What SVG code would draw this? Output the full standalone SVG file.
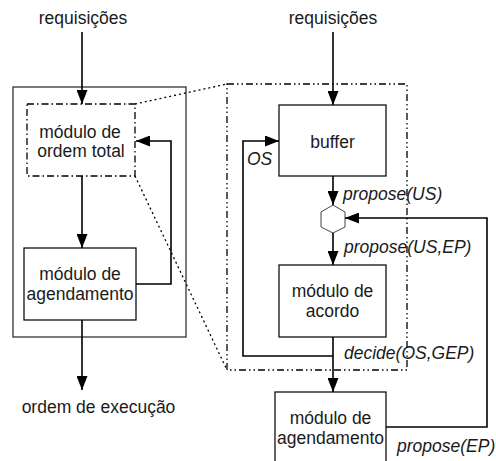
<svg xmlns="http://www.w3.org/2000/svg" width="496" height="461" viewBox="0 0 496 461">
<style>
text{font-family:"Liberation Sans",Arial,sans-serif;font-size:17.5px;fill:#1a1a1a}
.c{text-anchor:middle}
.i{font-style:italic}
.box{fill:#fff;stroke:#111;stroke-width:1.3}
.dd{fill:none;stroke:#000;stroke-width:1.3;stroke-dasharray:7 3 1.5 3}
.ddd{fill:none;stroke:#000;stroke-width:1.3;stroke-dasharray:7 3 1.5 3 1.5 3}
.dot{fill:none;stroke:#000;stroke-width:1.3;stroke-dasharray:2 3}
.ln{fill:none;stroke:#000;stroke-width:1.6}
</style>
<defs>
<marker id="ahl" viewBox="0 0 14 11" refX="14" refY="5.5" markerWidth="14" markerHeight="11" markerUnits="userSpaceOnUse" orient="auto">
<path d="M0,0 L14,5.5 L0,11 z" fill="#000"/>
</marker>
</defs>
<g id="outer-left"><rect class="box" x="13" y="87" width="173" height="250" style="stroke:#333"/></g>
<g id="zoom-lines">
<line class="dot" x1="135" y1="104" x2="227" y2="84"/>
<line class="dot" x1="135" y1="176" x2="227" y2="370"/>
</g>
<g id="outer-right"><rect class="ddd" x="227" y="84" width="180" height="286"/></g>
<g id="ordem-total">
<rect class="dd" x="27" y="104" width="108" height="72"/>
<text class="c" x="80" y="138">módulo de</text>
<text class="c" x="81" y="157">ordem total</text>
</g>
<g id="agendamento-left">
<rect class="box" x="24" y="248" width="112" height="72"/>
<text class="c" x="80" y="280">módulo de</text>
<text class="c" x="80" y="300">agendamento</text>
</g>
<g id="buffer">
<rect class="box" x="279" y="105" width="107" height="71"/>
<text class="c" x="332.5" y="148">buffer</text>
</g>
<g id="hexagon"><polygon points="333,205 345,212 345,227 333,233 321,227 321,212" fill="#fff" stroke="#444" stroke-width="1"/></g>
<g id="acordo">
<rect class="box" x="279" y="265" width="107" height="72"/>
<text class="c" x="332.5" y="297">módulo de</text>
<text class="c" x="332.5" y="317">acordo</text>
</g>
<g id="agendamento-right">
<rect class="box" x="275" y="392" width="111" height="80"/>
<text class="c" x="330.5" y="424">módulo de</text>
<text class="c" x="330.5" y="444">agendamento</text>
</g>
<g id="connectors">
<line class="ln" x1="82" y1="32" x2="82" y2="104" marker-end="url(#ahl)"/>
<line class="ln" x1="82" y1="176" x2="82" y2="248" marker-end="url(#ahl)"/>
<polyline class="ln" points="136,284 171,284 171,141 136,141" marker-end="url(#ahl)"/>
<line class="ln" x1="82" y1="320" x2="82" y2="390" marker-end="url(#ahl)"/>
<line class="ln" x1="333" y1="32" x2="333" y2="105" marker-end="url(#ahl)"/>
<line class="ln" x1="333" y1="176" x2="333" y2="205" marker-end="url(#ahl)"/>
<line class="ln" x1="333" y1="233" x2="333" y2="265" marker-end="url(#ahl)"/>
<line class="ln" x1="333" y1="337" x2="333" y2="392" marker-end="url(#ahl)"/>
<polyline class="ln" points="333,356 243,356 243,141 279,141" marker-end="url(#ahl)"/>
<polyline class="ln" points="386,427 487,427 487,218 345,218" marker-end="url(#ahl)"/>
</g>
<g id="labels">
<text class="c" x="83" y="24">requisições</text>
<text class="c" x="333" y="24">requisições</text>
<text class="c" x="98.5" y="413">ordem de execução</text>
<text class="i" x="247" y="165">OS</text>
<text class="i" x="343" y="200">propose(US)</text>
<text class="i" x="344" y="253">propose(US,EP)</text>
<text class="i" x="344" y="359">decide(OS,GEP)</text>
<text class="i" x="397" y="452">propose(EP)</text>
</g>
</svg>
